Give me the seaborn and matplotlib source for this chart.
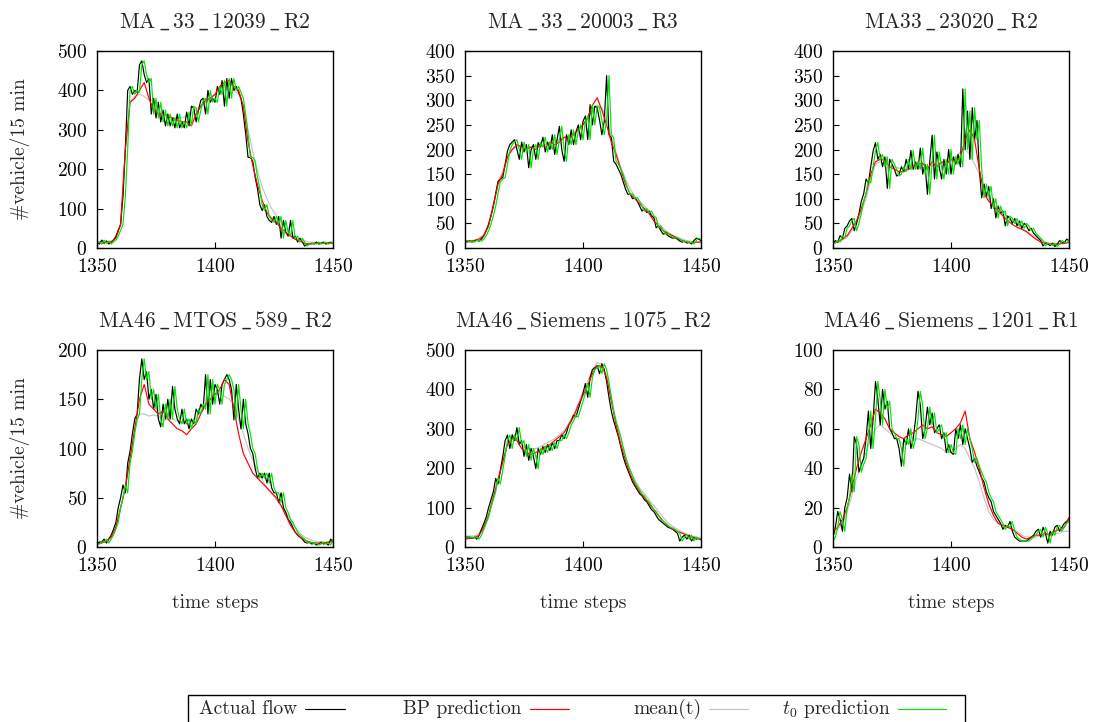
import numpy as np
import pandas as pd
import matplotlib
matplotlib.use("Agg")
import matplotlib.pyplot as plt
from matplotlib.lines import Line2D
from matplotlib.patches import Rectangle
import seaborn as sns

# ---------------- data ----------------
titles = ["MA_33_12039_R2", "MA_33_20003_R3", "MA33_23020_R2",
          "MA46_MTOS_589_R2", "MA46_Siemens_1075_R2", "MA46_Siemens_1201_R1"]
steps = list(range(1350, 1451))        # every time step
steps2 = list(range(1350, 1451, 2))    # smoother series read every 2nd step

actual_1 = [15,10,20,12,18,10,15,20,30,45,
            60,130,250,400,410,390,400,395,465,475,
            440,420,430,340,380,330,370,320,350,310,
            340,310,330,305,340,305,320,305,345,310,
            360,355,320,350,375,380,340,400,370,380,
            370,410,390,425,360,430,380,430,400,410,
            395,380,340,290,230,230,220,180,150,110,
            95,110,80,70,65,80,60,80,25,70,
            40,30,70,25,30,15,25,15,5,10,
            10,12,10,15,10,12,15,10,12,15,
            12]
t0_1 = [15,15,10,20,12,18,10,15,20,30,
        45,60,130,250,400,410,390,400,395,465,
        475,440,420,430,340,380,330,370,320,350,
        310,340,310,330,305,340,305,320,305,345,
        310,360,355,320,350,375,380,340,400,370,
        380,370,410,390,425,360,430,380,430,400,
        410,395,380,340,290,230,230,220,180,150,
        110,95,110,80,70,65,80,60,80,25,
        70,40,30,70,25,30,15,25,15,5,
        10,10,12,10,15,10,12,15,10,12,
        15]
bp_1 = [15,12,15,15,25,60,250,370,380,400,420,380,350,340,340,335,330,325,320,320,
        310,340,360,375,380,390,410,420,425,410,400,360,270,210,160,120,90,75,65,50,
        40,30,22,18,12,10,12,12,12,13,12]
mean_1 = [15,15,15,18,25,60,250,370,385,390,385,375,375,350,340,335,330,330,330,335,
          340,350,360,370,380,390,395,400,405,400,390,360,300,245,195,155,125,100,82,65,
          50,35,28,22,18,15,14,13,13,12,12]

actual_2 = [15,12,14,12,15,16,14,18,25,35,
            48,65,85,110,135,140,143,170,197,210,
            215,220,200,180,215,195,210,163,200,210,
            180,214,205,225,195,215,200,230,190,220,
            247,200,176,230,210,240,210,235,250,220,
            257,268,220,291,250,288,285,260,230,257,
            350,230,224,176,170,160,150,135,120,109,
            110,100,102,95,85,75,80,72,75,65,
            62,41,45,35,28,30,25,22,20,21,
            18,14,12,14,10,12,8,15,20,18,
            15]
t0_2 = [15,15,12,14,12,15,16,14,18,25,
        35,48,65,85,110,135,140,143,170,197,
        210,215,220,200,180,215,195,210,163,200,
        210,180,214,205,225,195,215,200,230,190,
        220,247,200,176,230,210,240,210,235,250,
        220,257,268,220,291,250,288,285,260,230,
        257,350,230,224,176,170,160,150,135,120,
        109,110,100,102,95,85,75,80,72,75,
        65,62,41,45,35,28,30,25,22,20,
        21,18,14,12,14,10,12,8,15,20,
        18]
bp_2 = [15,14,15,18,25,45,85,130,150,185,200,210,205,200,205,200,210,205,215,210,
        215,225,220,230,240,250,265,290,305,280,250,215,190,160,130,110,100,90,80,70,
        55,45,35,30,25,20,15,12,10,12,12]
mean_2 = [15,15,16,20,28,50,90,135,155,185,200,205,205,205,205,205,210,210,212,215,
          220,225,228,232,240,250,262,280,290,285,260,225,195,165,140,120,105,95,85,75,
          62,50,40,32,26,22,18,15,13,12,12]

actual_3 = [10,15,12,25,20,40,45,55,60,35,
            50,70,95,110,140,132,165,197,214,180,
            190,165,185,121,180,170,160,146,150,165,
            155,180,160,198,160,175,160,203,150,170,
            109,175,229,140,195,165,140,180,150,200,
            150,185,170,190,165,323,200,278,180,285,
            220,259,160,102,130,105,125,80,100,61,
            85,70,75,45,65,60,50,60,45,55,
            40,50,45,35,40,30,25,20,15,4,
            10,8,5,10,3,8,15,12,10,18,
            15]
t0_3 = [8,10,15,12,25,20,40,45,55,60,
        35,50,70,95,110,140,132,165,197,214,
        180,190,165,185,121,180,170,160,146,150,
        165,155,180,160,198,160,175,160,203,150,
        170,109,175,229,140,195,165,140,180,150,
        200,150,185,170,190,165,323,200,278,180,
        285,220,259,160,102,130,105,125,80,100,
        61,85,70,75,45,65,60,50,60,45,
        55,40,50,45,35,40,30,25,20,15,
        4,10,8,5,10,3,8,15,12,10,
        18]
bp_3 = [10,12,18,25,40,55,80,110,150,175,180,178,165,160,155,155,160,165,170,172,
        160,175,165,175,170,180,175,185,220,240,220,160,110,95,85,75,65,55,48,42,
        38,33,25,18,12,10,8,8,9,10,12]
mean_3 = [10,12,16,22,35,50,75,100,140,170,175,170,168,165,162,160,160,160,162,163,
          165,167,170,172,176,180,185,195,200,190,170,150,120,100,90,80,72,64,56,48,
          40,34,28,22,16,12,10,8,8,9,10]

actual_4 = [3,5,5,8,4,8,12,18,25,40,
            50,63,55,85,97,115,130,135,171,191,
            170,178,150,160,140,155,130,122,145,130,
            150,130,163,140,130,125,140,125,130,120,
            130,125,140,135,145,140,175,135,170,145,
            165,160,145,165,170,175,170,160,129,165,
            140,120,150,125,115,100,95,80,70,75,
            70,75,65,75,60,55,55,45,55,40,
            35,28,25,20,15,12,10,8,5,4,
            5,3,4,2,3,5,3,4,2,8,
            5]
t0_4 = [3,3,5,5,8,4,8,12,18,25,
        40,50,63,55,85,97,115,130,135,171,
        191,170,178,150,160,140,155,130,122,145,
        130,150,130,163,140,130,125,140,125,130,
        120,130,125,140,135,145,140,175,135,170,
        145,165,160,145,165,170,175,170,160,129,
        165,140,120,150,125,115,100,95,80,70,
        75,70,75,65,75,60,55,55,45,55,
        40,35,28,25,20,15,12,10,8,5,
        4,5,3,4,2,3,5,3,4,2,
        8]
bp_4 = [3,4,6,10,20,40,60,90,120,150,165,145,140,135,138,130,125,120,118,114,
        120,125,135,145,150,155,160,170,165,140,115,95,85,75,70,65,60,55,50,42,
        32,22,15,10,7,5,4,4,4,5,6]
mean_4 = [5,5,6,10,20,38,60,90,120,135,135,133,134,133,128,130,130,128,127,125,
          125,130,138,145,150,155,155,153,150,145,130,115,100,88,78,68,60,54,48,42,
          35,28,20,14,10,8,6,5,5,5,5]

actual_5 = [25,25,25,22,25,20,30,45,60,76,
            100,120,140,174,160,195,230,270,284,250,
            285,270,303,260,270,230,260,220,250,230,
            199,250,235,255,240,260,245,265,250,270,
            270,285,275,290,310,320,335,330,350,370,
            390,415,380,430,450,455,460,440,465,450,
            420,380,345,320,300,280,255,230,210,195,
            180,165,155,145,135,130,120,115,105,95,
            90,80,70,65,60,55,50,48,45,40,
            35,15,25,30,20,30,15,25,20,22,
            18]
t0_5 = [25,25,25,25,22,25,20,30,45,60,
        76,100,120,140,174,160,195,230,270,284,
        250,285,270,303,260,270,230,260,220,250,
        230,199,250,235,255,240,260,245,265,250,
        270,270,285,275,290,310,320,335,330,350,
        370,390,415,380,430,450,455,460,440,465,
        450,420,380,345,320,300,280,255,230,210,
        195,180,165,155,145,135,130,120,115,105,
        95,90,80,70,65,60,55,50,48,45,
        40,35,15,25,30,20,30,15,25,20,
        22]
bp_5 = [20,22,24,30,50,80,125,170,215,260,275,270,250,240,235,240,245,255,260,270,
        280,290,310,330,360,385,410,440,460,460,430,370,310,260,220,185,160,140,125,110,
        95,80,65,55,45,40,35,30,25,22,20]
mean_5 = [28,28,28,35,55,85,130,175,220,265,280,275,260,250,248,250,255,262,268,275,
          285,295,315,335,365,395,420,450,468,465,435,380,320,270,230,195,170,150,135,120,
          105,90,75,62,52,45,38,33,28,25,22]

actual_6 = [5,10,18,14,8,20,25,37,28,56,
            52,38,42,45,55,69,50,65,84,75,
            62,80,70,74,60,58,55,55,50,41,
            55,52,60,50,55,65,79,72,55,60,
            71,62,68,58,60,62,55,58,48,52,
            48,47,60,55,62,52,60,55,50,43,
            45,41,38,35,33,28,25,23,18,16,
            14,12,9,11,10,13,8,5,4,3,
            3,3,3,4,5,6,8,9,5,10,
            7,2,8,6,10,11,8,10,12,13,
            14]
t0_6 = [3,5,10,18,14,8,20,25,37,28,
        56,52,38,42,45,55,69,50,65,84,
        75,62,80,70,74,60,58,55,55,50,
        41,55,52,60,50,55,65,79,72,55,
        60,71,62,68,58,60,62,55,58,48,
        52,48,47,60,55,62,52,60,55,50,
        43,45,41,38,35,33,28,25,23,18,
        16,14,12,9,11,10,13,8,5,4,
        3,3,3,3,4,5,6,8,9,5,
        10,7,2,8,6,10,11,8,10,12,
        13]
bp_6 = [8,10,14,20,30,40,48,55,62,70,68,65,60,58,56,55,57,58,60,62,
        60,61,58,57,56,58,60,63,69,55,48,40,30,22,16,12,11,10,9,7,
        5,4,5,6,6,7,6,8,9,10,15]
mean_6 = [6,9,12,18,26,35,42,48,55,60,62,60,58,56,54,52,53,54,55,54,
          53,52,51,50,48,48,50,52,50,45,40,33,25,18,14,12,11,10,9,8,
          6,5,5,5,6,6,7,7,7,8,8]

y_limits = [500, 400, 400, 200, 500, 100]
y_steps = [100, 50, 50, 50, 100, 20]
x_ticks = [1350, 1400, 1450]
legend_labels = ["Actual flow", "BP prediction", "mean(t)", "$t_0$ prediction"]

actuals = [actual_1, actual_2, actual_3, actual_4, actual_5, actual_6]
t0s = [t0_1, t0_2, t0_3, t0_4, t0_5, t0_6]
bps = [bp_1, bp_2, bp_3, bp_4, bp_5, bp_6]
means = [mean_1, mean_2, mean_3, mean_4, mean_5, mean_6]

# ---------------- style ----------------
sns.set_style("ticks")
plt.rcParams["font.family"] = ["cmr10", "DejaVu Serif"]
plt.rcParams["mathtext.fontset"] = "cm"
plt.rcParams["axes.formatter.use_mathtext"] = True
plt.rcParams["axes.unicode_minus"] = False

C_ACT, C_BP, C_MEAN, C_T0 = "#000000", "#ff0000", "#c4c4c4", "#00e600"
LW = 0.85
FS = 14

W, H = 1101, 722
fig = plt.figure(figsize=(W / 100, H / 100), dpi=100)

lefts = [97, 465, 833]
tops = [51, 350]
aw, ah = 236, 197

for i in range(6):
    r, c = divmod(i, 3)
    ax = fig.add_axes([lefts[c] / W, 1 - (tops[r] + ah) / H, aw / W, ah / H])
    df = pd.DataFrame({"step": steps, "actual": actuals[i], "t0": t0s[i]})
    df2 = pd.DataFrame({"step": steps2, "bp": bps[i], "mean": means[i]})
    sns.lineplot(data=df2, x="step", y="mean", ax=ax, color=C_MEAN, lw=LW)
    sns.lineplot(data=df, x="step", y="actual", ax=ax, color=C_ACT, lw=LW)
    sns.lineplot(data=df2, x="step", y="bp", ax=ax, color=C_BP, lw=LW)
    sns.lineplot(data=df, x="step", y="t0", ax=ax, color=C_T0, lw=LW)
    ax.set_xlim(1350, 1450)
    ax.set_ylim(0, y_limits[i])
    ax.set_xticks(x_ticks)
    ax.set_yticks(np.arange(0, y_limits[i] + 1, y_steps[i]))
    ax.tick_params(direction="in", length=4, width=0.8, labelsize=FS, pad=7,
                   top=False, right=False, colors="black")
    for s in ax.spines.values():
        s.set_visible(True)
        s.set_linewidth(1.0)
        s.set_color("black")
    ax.set_title(r"$\mathrm{" + titles[i].replace("_", r"\,\_\,") + "}$",
                 fontsize=15.5, pad=17)
    ax.set_xlabel("time steps" if r == 1 else "", fontsize=FS, labelpad=14)
    ax.set_ylabel("#vehicle/15 min" if c == 0 else "", fontsize=FS, labelpad=19)

# ---------------- legend (gnuplot style box) ----------------
box = Rectangle((188 / W, -0.02), (965 - 188) / W, 0.02 + (1 - 695 / H),
                transform=fig.transFigure, fill=False, edgecolor="black", lw=1.0)
fig.add_artist(box)
colors = [C_ACT, C_BP, C_MEAN, C_T0]
text_right = [297, 521, 702, 890]
line_x = [(305, 345), (530, 569), (709, 748), (898, 946)]
ly = 1 - 709 / H
for lab, col, tr, (x0, x1) in zip(legend_labels, colors, text_right, line_x):
    fig.text(tr / W, ly, lab, ha="right", va="center", fontsize=FS)
    fig.add_artist(Line2D([x0 / W, x1 / W], [ly, ly], transform=fig.transFigure,
                          color=col, lw=LW))

fig.savefig("out.png", dpi=100)
